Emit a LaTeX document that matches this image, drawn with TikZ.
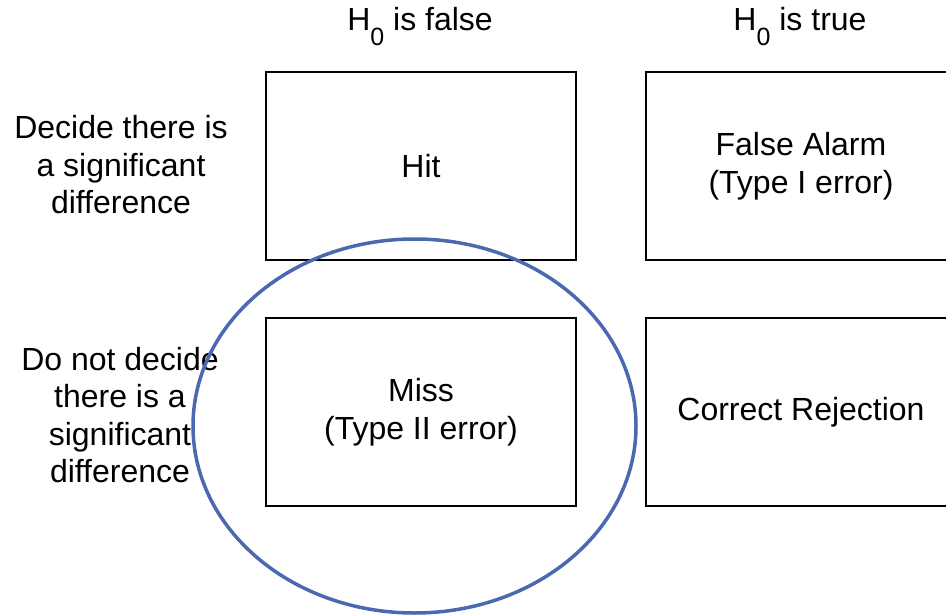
\documentclass[tikz,border=0pt]{standalone}
\usepackage{fontspec}
\setmainfont{Liberation Sans}
\definecolor{ellblue}{HTML}{4A69B0}
\begin{document}
\begin{tikzpicture}[x=1pt,y=-1pt,
  txt/.style={font=\fontsize{32}{37.5}\selectfont, align=center, inner sep=0pt},
  cell/.style={draw=black, line width=2.2pt, minimum width=310pt, minimum height=188pt,
    font=\fontsize{32}{37.5}\selectfont, align=center, inner sep=0pt},
  ell/.style={draw=ellblue, line width=3.5pt}]
\useasboundingbox (0,0) rectangle (946,616);
\clip (0,0) rectangle (946,616);
\fill[white] (0,0) rectangle (946,616);
% column titles
\node[txt, anchor=base] (tfalse) at (420,30) {H\raisebox{-15pt}{\fontsize{25}{25}\selectfont 0} is false};
\node[txt, anchor=base] (ttrue) at (800,30) {H\raisebox{-15pt}{\fontsize{25}{25}\selectfont 0} is true};
% row labels
\node[txt] (rdecide) at (121,165) {Decide there is\\a significant\\difference};
\node[txt] (rnot) at (120,415) {Do not decide\\there is a\\significant\\difference};
% cells
\node[cell] (hit) at (421,166) {Hit};
\node[cell] (fa) at (801,166) {False Alarm\\(Type I error)};
\node[cell] (miss) at (421,412) {Miss\\(Type II error)};
\node[cell] (cr) at (801,412) {Correct Rejection};
% highlight ellipse
\draw[ell] (414.5,426) ellipse [x radius=221.5pt, y radius=187pt];
\end{tikzpicture}
\end{document}
